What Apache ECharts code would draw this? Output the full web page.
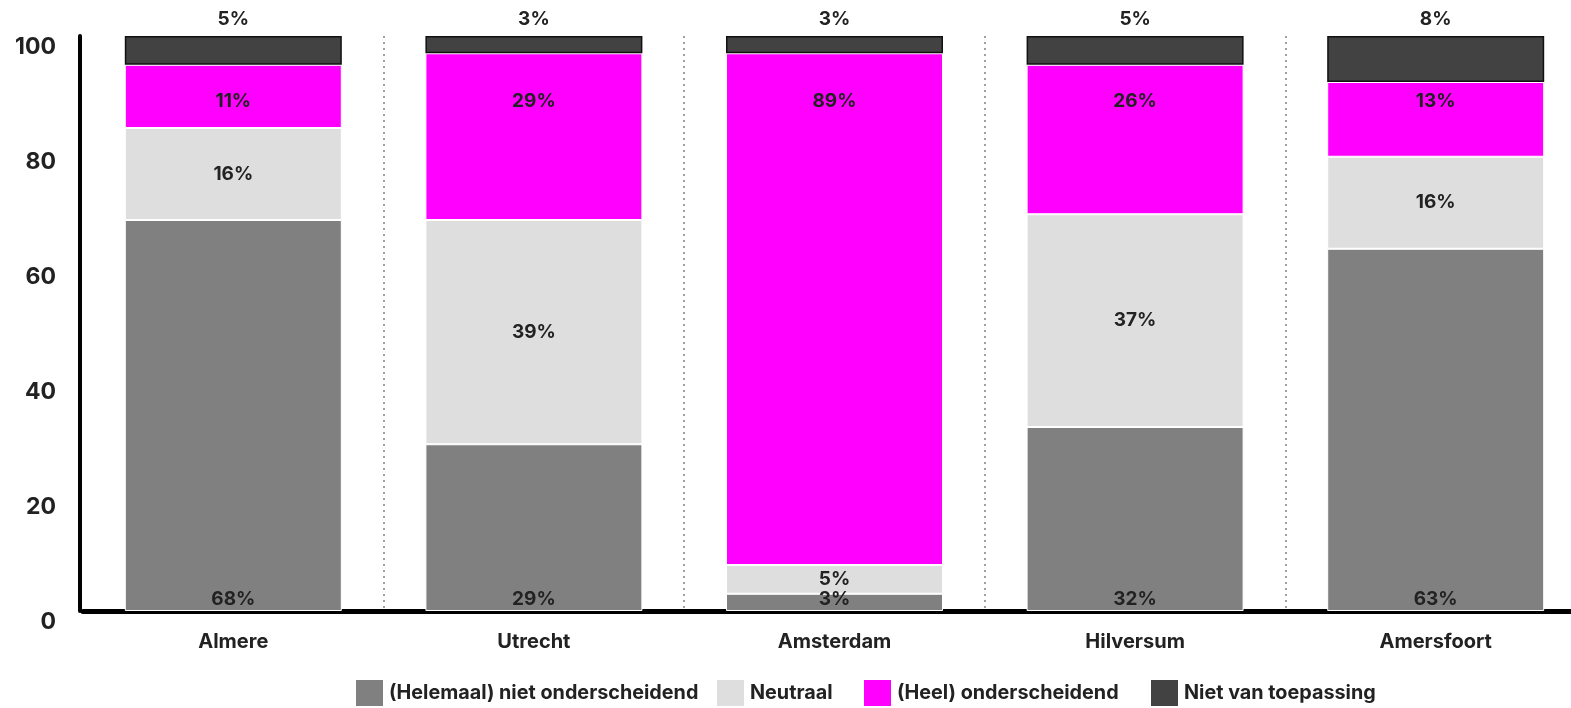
<!DOCTYPE html>
<html>
<head>
<meta charset="utf-8">
<title>Onderscheidend vermogen per stad</title>
<script src="https://cdn.jsdelivr.net/npm/echarts@6/dist/echarts.min.js"></script>
<style>
  html, body { margin: 0; padding: 0; background: #fff; }
  #chart { width: 1571px; height: 708px; }
</style>
</head>
<body>
<div id="chart"></div>
<script>
// Cities on the x axis
const cities = ['Almere', 'Utrecht', 'Amsterdam', 'Hilversum', 'Amersfoort'];

// Answer shares per city (percent), stacked bottom to top
const nietOnderscheidend = [68, 29, 3, 32, 63];
const neutraal = [16, 39, 5, 37, 16];
const onderscheidend = [11, 29, 89, 26, 13];
const nietVanToepassing = [5, 3, 3, 5, 8];

const seriesNames = [
  '(Helemaal) niet onderscheidend',
  'Neutraal',
  '(Heel) onderscheidend',
  'Niet van toepassing'
];

// Y axis ticks
const yTicks = [0, 20, 40, 60, 80, 100];

// Height (axis value) at which the "onderscheidend" labels are lined up
const pinkLabelLevel = 88.6;

const FONT = 'Inter, "DejaVu Sans", sans-serif';
const TEXT = '#222222';

const chart = echarts.init(document.getElementById('chart'), null, { renderer: 'canvas' });

const labelBase = {
  show: true,
  formatter: '{c}%',
  fontFamily: FONT,
  fontWeight: 'bold',
  fontSize: 19,
  color: TEXT
};

// One legend block per entry so each key sits at its own spot in the row
const legendLefts = [356, 717, 864, 1151];
const legends = seriesNames.map(function (name, i) {
  return {
    left: legendLefts[i],
    top: 680,
    itemWidth: 27,
    itemHeight: 26,
    padding: 0,
    icon: 'rect',
    itemStyle: { borderWidth: 0 },
    textStyle: { fontFamily: FONT, fontWeight: 'bold', fontSize: 19.8, color: TEXT, padding: [0, 0, 0, 1] },
    data: [name]
  };
});

const option = {
  animation: false,
  backgroundColor: '#ffffff',
  grid: { left: 83, width: 1503, top: 36, bottom: 97, containLabel: false, outerBoundsMode: 'none' },
  legend: legends,
  xAxis: {
    type: 'category',
    data: cities,
    offset: 2,
    axisLine: { show: true, lineStyle: { color: '#000', width: 5 } },
    axisTick: { show: false },
    axisLabel: { margin: 19, fontFamily: FONT, fontWeight: 'bold', fontSize: 20, color: TEXT },
    splitLine: {
      show: true,
      // separators only between cities, none against the y axis
      interval: function (index) { return index !== 0; },
      lineStyle: { color: '#a0a0a0', width: 2, type: [2, 4] }
    }
  },
  yAxis: {
    type: 'value',
    offset: 3,
    min: yTicks[0],
    max: yTicks[yTicks.length - 1],
    interval: yTicks[1] - yTicks[0],
    axisLine: { show: true, lineStyle: { color: '#000', width: 4 } },
    axisTick: { show: false },
    splitLine: { show: false },
    axisLabel: {
      margin: 24,
      verticalAlign: 'top',
      fontFamily: FONT, fontWeight: 'bold', fontSize: 23, color: TEXT
    }
  },
  labelLayout: function (p) {
    if (p.seriesIndex !== 2) return {};
    const y = chart.convertToPixel({ yAxisIndex: 0 }, pinkLabelLevel);
    return {
      x: p.rect.x + p.rect.width / 2,
      y: y,
      align: 'center',
      verticalAlign: 'middle'
    };
  },
  series: [
    {
      name: seriesNames[0], type: 'bar', stack: 'total', barWidth: 217,
      data: nietOnderscheidend,
      itemStyle: { color: '#808080', borderColor: '#ffffff', borderWidth: 1 },
      label: Object.assign({}, labelBase, { position: 'insideBottom', distance: 2 })
    },
    {
      name: seriesNames[1], type: 'bar', stack: 'total', barWidth: 217,
      data: neutraal,
      itemStyle: { color: '#dedede', borderColor: '#ffffff', borderWidth: 1 },
      label: Object.assign({}, labelBase, { position: 'inside' })
    },
    {
      name: seriesNames[2], type: 'bar', stack: 'total', barWidth: 217,
      data: onderscheidend,
      itemStyle: { color: '#ff00ff', borderColor: '#ffffff', borderWidth: 1 },
      label: Object.assign({}, labelBase, { position: 'inside' })
    },
    {
      name: seriesNames[3], type: 'bar', stack: 'total', barWidth: 217,
      data: nietVanToepassing,
      itemStyle: { color: '#424242', borderColor: '#111111', borderWidth: 1.5 },
      label: Object.assign({}, labelBase, { position: 'top', distance: 7 })
    }
  ]
};

chart.setOption(option);
</script>
</body>
</html>
